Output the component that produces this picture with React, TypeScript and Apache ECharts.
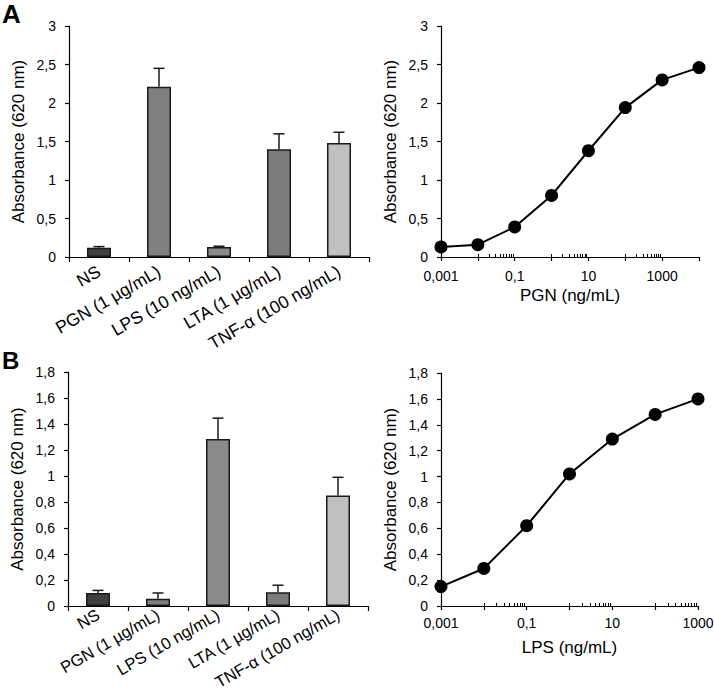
import React, { useEffect, useRef } from 'react';
import * as echarts from 'echarts';

// ---------- data ----------
const categories = ['NS', 'PGN (1 µg/mL)', 'LPS (10 ng/mL)', 'LTA (1 µg/mL)', 'TNF-α (100 ng/mL)'];

const barValuesA = [0.12, 2.21, 0.13, 1.40, 1.48];
const barErrorsA = [0.015, 0.24, 0.01, 0.20, 0.14];

const barValuesB = [0.10, 0.055, 1.285, 0.105, 0.85];
const barErrorsB = [0.02, 0.045, 0.16, 0.055, 0.14];

const pgnDoses = [0.001, 0.01, 0.1, 1, 10, 100, 1000, 10000];
const pgnAbsorbance = [0.13, 0.16, 0.39, 0.80, 1.38, 1.94, 2.30, 2.46];

const lpsDoses = [0.001, 0.01, 0.1, 1, 10, 100, 1000];
const lpsAbsorbance = [0.15, 0.29, 0.62, 1.02, 1.29, 1.48, 1.60];

const logLabelValues = [0.001, 0.1, 10, 1000];
const minorDecades = [0.01, 1, 100];
const minorMultipliers = [1, 2, 3, 4, 5, 6, 7, 8, 9];

// ---------- styles ----------
const FONT = "'Liberation Sans', Arial, sans-serif";
const barColors = ['#3f3f3f', '#808080', '#8a8a8a', '#7c7c7c', '#c0c0c0'];
const EDGE = '#1a1a1a';

const commaFmt = (v: number) => String(parseFloat(Number(v).toFixed(3))).replace('.', ',');

const logLabelFmt = (v: number) => {
  const hit = logLabelValues.find((t) => Math.abs(Math.log10(v) - Math.log10(t)) < 1e-6);
  return hit === undefined ? '' : commaFmt(hit);
};

const minorTicksLog = (maxDose: number) => {
  const out: number[] = [];
  minorDecades.forEach((d) =>
    minorMultipliers.forEach((m) => {
      const v = d * m;
      if (v <= maxDose) out.push(Math.log10(v));
    })
  );
  return out;
};

const yAxisBase = (gridIndex: number, max: number, interval: number) => ({
  type: 'value',
  gridIndex,
  min: 0,
  max,
  interval,
  position: 'left',
  name: 'Absorbance (620 nm)',
  nameLocation: 'middle',
  nameGap: 42,
  nameTextStyle: { fontSize: 17, color: '#000', fontFamily: FONT },
  axisLine: { show: true, onZero: false, lineStyle: { color: '#000', width: 1.2 } },
  axisTick: { show: true, inside: false, length: 4, lineStyle: { color: '#000', width: 1.2 } },
  axisLabel: { fontSize: 14, color: '#000', margin: 13, fontFamily: FONT, formatter: commaFmt },
  splitLine: { show: false },
});

const catAxis = (gridIndex: number, fontSize: number, margin: number) => ({
  type: 'category',
  gridIndex,
  data: categories,
  boundaryGap: true,
  axisLine: { show: true, lineStyle: { color: '#000', width: 1.2 } },
  axisTick: { show: true, inside: false, length: 5, lineStyle: { color: '#000', width: 1.2 } },
  axisLabel: { rotate: 30, interval: 0, fontSize, color: '#000', margin, fontFamily: FONT, hideOverlap: false },
  splitLine: { show: false },
});

const logAxis = (gridIndex: number, maxDose: number, name: string, labelMargin: number, nameGap: number) => ({
  type: 'log',
  logBase: 10,
  gridIndex,
  min: pgnDoses[0],
  max: maxDose,
  position: 'bottom',
  name,
  nameLocation: 'middle',
  nameGap,
  nameTextStyle: { fontSize: 17, color: '#000', fontFamily: FONT },
  axisLine: { show: true, onZero: false, lineStyle: { color: '#000', width: 1.2 } },
  axisTick: { show: true, inside: false, length: 4, lineStyle: { color: '#000', width: 1.2 } },
  axisLabel: { fontSize: 14, color: '#000', margin: labelMargin, fontFamily: FONT, formatter: logLabelFmt, showMinLabel: true, showMaxLabel: true },
  splitLine: { show: false },
});

const minorAxis = (gridIndex: number, maxDose: number) => ({
  type: 'value',
  gridIndex,
  min: Math.log10(pgnDoses[0]),
  max: Math.log10(maxDose),
  position: 'bottom',
  axisLine: { show: false, onZero: false },
  axisLabel: { show: false },
  axisTick: { show: true, inside: true, length: 3, customValues: minorTicksLog(maxDose), lineStyle: { color: '#000', width: 1 } },
  splitLine: { show: false },
});

const barSeries = (idx: number, values: number[]) => ({
  type: 'bar',
  xAxisIndex: idx,
  yAxisIndex: idx,
  barWidth: '40%',
  data: values.map((v, i) => ({
    value: v,
    itemStyle: { color: barColors[i], borderColor: EDGE, borderWidth: 1.5 },
  })),
});

const errorSeries = (idx: number, values: number[], errs: number[]) => ({
  type: 'custom',
  xAxisIndex: idx,
  yAxisIndex: idx,
  z: 3,
  encode: { x: 0, y: [1, 2] },
  data: values.map((v, i) => [i, v, v + errs[i]]),
  renderItem: (_p: any, api: any) => {
    const base = api.coord([api.value(0), api.value(1)]);
    const top = api.coord([api.value(0), api.value(2)]);
    const half = 5.5;
    return {
      type: 'group',
      children: [
        { type: 'line', shape: { x1: base[0], y1: base[1], x2: top[0], y2: top[1] }, style: { stroke: EDGE, lineWidth: 1.5 } },
        { type: 'line', shape: { x1: top[0] - half, y1: top[1], x2: top[0] + half, y2: top[1] }, style: { stroke: EDGE, lineWidth: 1.5 } },
      ],
    };
  },
});

const lineSeries = (xIdx: number, yIdx: number, doses: number[], vals: number[]) => ({
  type: 'line',
  xAxisIndex: xIdx,
  yAxisIndex: yIdx,
  data: doses.map((d, i) => [d, vals[i]]),
  symbol: 'circle',
  symbolSize: 13,
  lineStyle: { color: '#000', width: 2 },
  itemStyle: { color: '#000' },
  z: 4,
});

export default function App() {
  const ref = useRef<HTMLDivElement>(null);

  useEffect(() => {
    if (!ref.current) return;
    const chart = echarts.init(ref.current, null, { renderer: 'svg' });
    const pgnMax = pgnDoses[pgnDoses.length - 1];
    const lpsMax = lpsDoses[lpsDoses.length - 1];

    chart.setOption({
      animation: false,
      backgroundColor: '#fff',
      textStyle: { fontFamily: FONT, color: '#000' },
      grid: [
        { left: 69, top: 26, width: 300, height: 231, outerBoundsMode: 'none' },
        { left: 441, top: 26, width: 258, height: 231, outerBoundsMode: 'none' },
        { left: 68, top: 372, width: 300, height: 234, outerBoundsMode: 'none' },
        { left: 441, top: 373, width: 257, height: 233, outerBoundsMode: 'none' },
      ],
      xAxis: [
        catAxis(0, 17.5, 13),
        logAxis(1, pgnMax, 'PGN (ng/mL)', 12, 30),
        catAxis(2, 16.5, 7),
        logAxis(3, lpsMax, 'LPS (ng/mL)', 10, 33),
        minorAxis(1, pgnMax),
        minorAxis(3, lpsMax),
      ],
      yAxis: [
        yAxisBase(0, 3, 0.5),
        yAxisBase(1, 3, 0.5),
        yAxisBase(2, 1.8, 0.2),
        yAxisBase(3, 1.8, 0.2),
      ],
      series: [
        barSeries(0, barValuesA),
        errorSeries(0, barValuesA, barErrorsA),
        barSeries(2, barValuesB),
        errorSeries(2, barValuesB, barErrorsB),
        lineSeries(1, 1, pgnDoses, pgnAbsorbance),
        lineSeries(3, 3, lpsDoses, lpsAbsorbance),
      ],
      graphic: [
        { type: 'text', left: 2, top: 1, style: { text: 'A', fontSize: 26, fontWeight: 900, fontFamily: FONT, fill: '#000' } },
        { type: 'text', left: 2, top: 348, style: { text: 'B', fontSize: 24, fontWeight: 900, fontFamily: FONT, fill: '#000' } },
      ],
    });

    return () => chart.dispose();
  }, []);

  return (
    <div
      ref={ref}
      style={{ position: 'absolute', left: 0, top: 0, width: 714, height: 691, background: '#fff' }}
    />
  );
}
